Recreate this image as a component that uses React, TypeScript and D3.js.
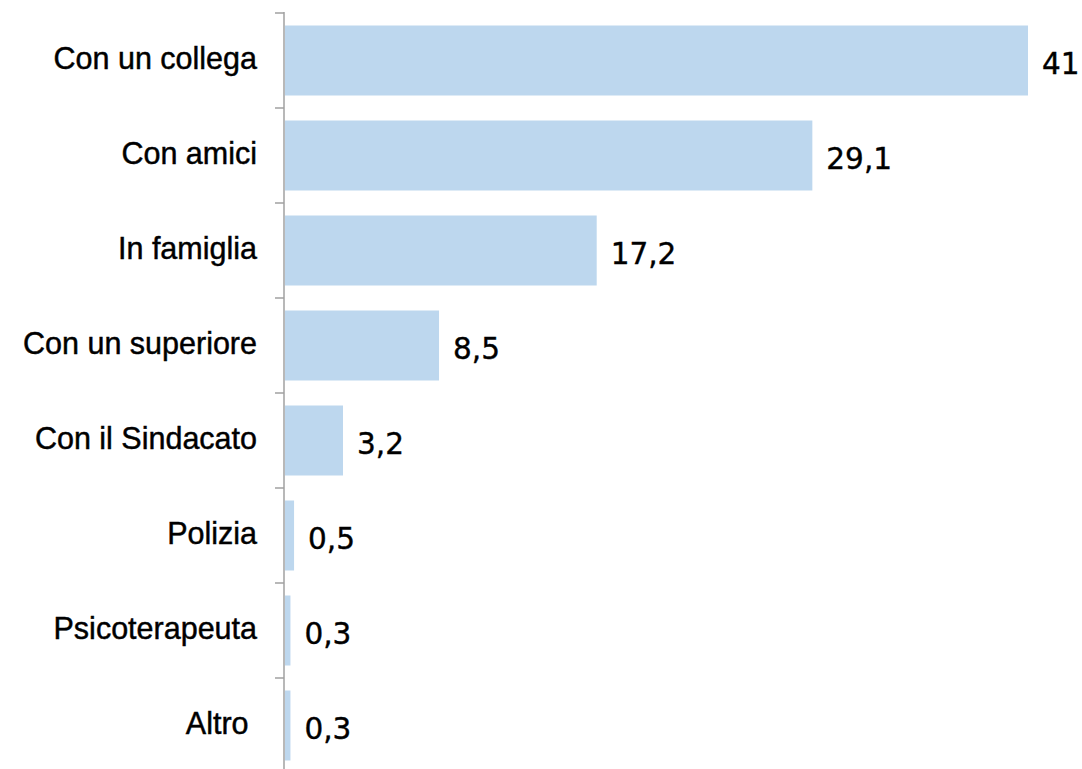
import React from "react";
import * as d3 from "d3";

// Categories (top to bottom) and their percentages
const categories: string[] = [
  "Con un collega",
  "Con amici",
  "In famiglia",
  "Con un superiore",
  "Con il Sindacato",
  "Polizia",
  "Psicoterapeuta",
  "Altro\u00a0",
];
const values: number[] = [41, 29.1, 17.2, 8.5, 3.2, 0.5, 0.3, 0.3];
const valueLabels: string[] = ["41", "29,1", "17,2", "8,5", "3,2", "0,5", "0,3", "0,3"];

const W = 1082;
const H = 769;
const axisX = 284;
const top = 13;
const step = 95;

export default function App() {
  const y = d3
    .scaleBand<string>()
    .domain(categories)
    .range([top, top + step * categories.length])
    .paddingInner(25 / 95)
    .paddingOuter(12.5 / 95);

  const x = d3.scaleLinear().domain([0, 41]).range([axisX + 1, 1028]);

  const tickYs = d3.range(categories.length + 1).map((i) => top + i * y.step());

  return (
    <svg
      width={W}
      height={H}
      style={{ position: "absolute", left: 0, top: 0, background: "#fff" }}
    >
      {categories.map((c, i) => {
        const by = y(c)!;
        const bh = y.bandwidth();
        const cy = by + bh / 2;
        return (
          <g key={c}>
            <rect x={x(0)} y={by} width={x(values[i]) - x(0)} height={bh} fill="#BDD7EE" />
            <text
              x={257}
              y={cy + 8}
              textAnchor="end"
              fontSize={30.5}
              fontFamily="'Liberation Sans', Arial, sans-serif"
              fill="#000"
              stroke="#000"
              strokeWidth={0.45}
              style={{ whiteSpace: "pre" }}
            >
              {c}
            </text>
            <text
              x={x(values[i]) + 14}
              y={cy + 13}
              fontSize={29.5}
              fontFamily="'DejaVu Sans', sans-serif"
              fill="#000"
              stroke="#000"
              strokeWidth={0.4}
            >
              {valueLabels[i]}
            </text>
          </g>
        );
      })}
      <line x1={axisX} x2={axisX} y1={top - 1} y2={H + 10} stroke="#a0a0a0" strokeWidth={1.5} />
      {tickYs.map((t, i) => (
        <line key={i} x1={axisX - 9} x2={axisX} y1={t} y2={t} stroke="#a0a0a0" strokeWidth={1.5} />
      ))}
    </svg>
  );
}
